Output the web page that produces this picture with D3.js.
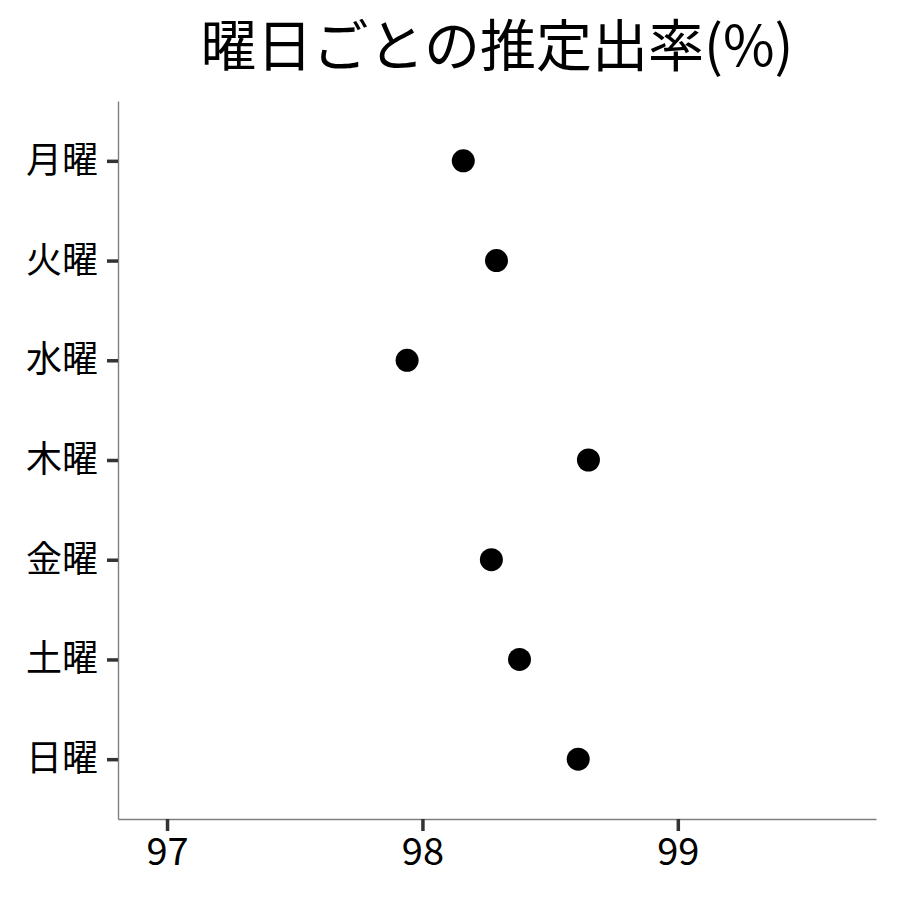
<!DOCTYPE html>
<html>
<head>
<meta charset="utf-8">
<script src="https://cdn.jsdelivr.net/npm/d3@7"></script>
<style>
  body { margin: 0; background: #fff; }
  text { font-family: "Noto Sans CJK JP", "Noto Sans", sans-serif; fill: #000; }
</style>
</head>
<body>
<svg id="chart"></svg>
<script>
// data
const days = ['月曜', '火曜', '水曜', '木曜', '金曜', '土曜', '日曜'];
const rates = [98.16, 98.29, 97.94, 98.65, 98.27, 98.38, 98.61];
const xTicks = [97, 98, 99];
const title = '曜日ごとの推定出率(%)';

const width = 900, height = 900;
const margin = {top: 101, right: 24, bottom: 81, left: 118};
const innerW = width - margin.left - margin.right;
const innerH = height - margin.top - margin.bottom;

const svg = d3.select('#chart')
    .attr('width', width)
    .attr('height', height);

const chart = svg.append('g')
    .attr('transform', `translate(${margin.left},${margin.top})`);

const xScale = d3.scaleLinear()
    .domain([96.808, 99.776])
    .range([0, innerW]);

const yScale = d3.scalePoint()
    .domain(days)
    .range([0, innerH])
    .padding(0.6);

// x axis
const xAxisG = chart.append('g')
    .attr('transform', `translate(0,${innerH})`)
    .call(d3.axisBottom(xScale).tickValues(xTicks).tickSizeInner(12).tickSizeOuter(0)
      .tickPadding(7).tickFormat(d3.format('d')));
xAxisG.select('.domain').attr('stroke', '#7f7f7f').attr('stroke-width', 1.4);
xAxisG.selectAll('.tick line').attr('stroke', '#333').attr('stroke-width', 3.5);
xAxisG.selectAll('.tick text').style('font-size', '38px').attr('fill', '#000');

// y axis
const yAxisG = chart.append('g')
    .call(d3.axisLeft(yScale).tickSizeInner(11).tickSizeOuter(0).tickPadding(9));
yAxisG.select('.domain').attr('stroke', '#7f7f7f').attr('stroke-width', 1.4);
yAxisG.selectAll('.tick line').attr('stroke', '#333').attr('stroke-width', 3.5);
yAxisG.selectAll('.tick text').style('font-size', '36px').attr('fill', '#000');

// points
chart.selectAll('.point')
    .data(days)
  .join('circle')
    .attr('class', 'point')
    .attr('cx', (d, i) => xScale(rates[i]))
    .attr('cy', d => yScale(d))
    .attr('r', 11.5)
    .attr('fill', '#000');

// title
svg.append('text')
    .attr('x', margin.left + innerW / 2)
    .attr('y', 66)
    .attr('text-anchor', 'middle')
    .style('font-size', '56px')
    .text(title);
</script>
</body>
</html>
